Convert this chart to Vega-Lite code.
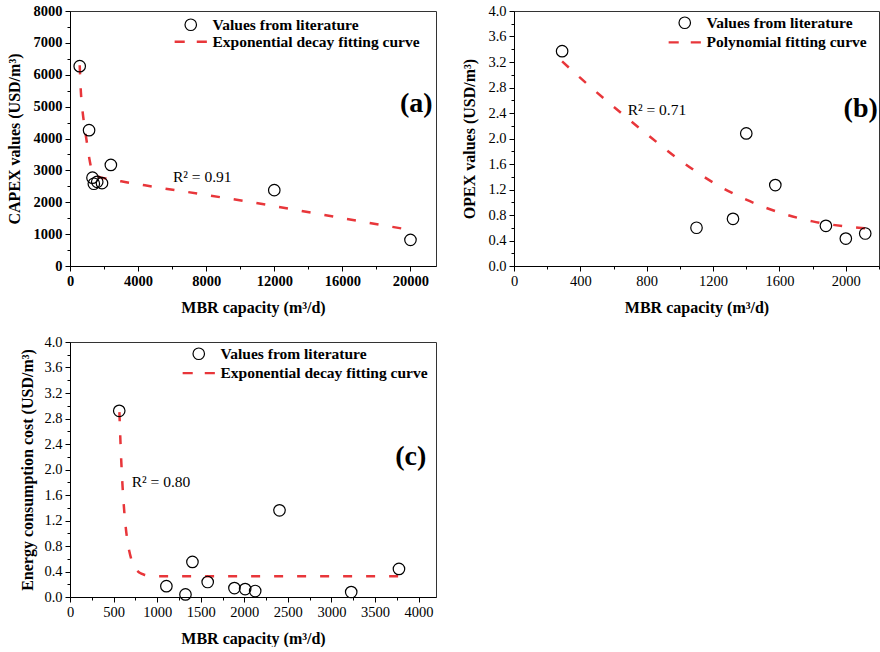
{
  "$schema": "https://vega.github.io/schema/vega-lite/v6.json",
  "background": "white",
  "padding": {"left": 5, "top": 2, "right": 0, "bottom": 0},
  "config": {
    "font": "Liberation Serif",
    "view": {"stroke": "#333", "strokeWidth": 1},
    "axis": {"domainColor": "black", "tickColor": "black", "labelFont": "Liberation Serif", "labelFontSize": 14.5, "labelColor": "black", "titleFont": "Liberation Serif", "titleFontSize": 16, "titleFontWeight": "bold", "titleColor": "black", "grid": false, "labelPadding": 3, "labelFlush": false, "labelOverlap": false},
    "legend": {"labelFont": "Liberation Serif", "labelFontSize": 15.5, "labelFontWeight": "bold", "labelColor": "black", "labelOffset": 14, "labelLimit": 400, "padding": 0, "symbolSize": 132, "symbolStrokeWidth": 1.2, "orient": "none"},
    "text": {"font": "Liberation Serif", "color": "black"}
  },
  "resolve": {"scale": {"x": "independent", "y": "independent", "color": "independent", "shape": "independent"}, "legend": {"color": "independent", "shape": "independent"}},
  "columns": 2,
  "spacing": {"row": 76, "column": 78},
  "bounds": "flush",
  "concat": [
    {
      "width": 366, "height": 255,
      "encoding": {
        "x": {"field": "x", "type": "quantitative", "scale": {"domain": [0, 21500], "nice": false, "zero": false},
          "axis": {"title": "MBR capacity (m³/d)", "values": [0,2000,4000,6000,8000,10000,12000,14000,16000,18000,20000], "format": "d", "labelFontWeight": "bold", "labelExpr": "datum.value % 4000 === 0 ? datum.label : ''", "tickSize": {"condition": {"test": "datum.value % 4000 === 0", "value": 5}, "value": 3}, "titlePadding": 12}},
        "y": {"field": "y", "type": "quantitative", "scale": {"domain": [0, 8000], "nice": false, "zero": false},
          "axis": {"title": "CAPEX values (USD/m³)", "values": [0,500,1000,1500,2000,2500,3000,3500,4000,4500,5000,5500,6000,6500,7000,7500,8000], "format": "d", "labelFontWeight": "bold", "labelExpr": "datum.value % 1000 === 0 ? datum.label : ''", "tickSize": {"condition": {"test": "datum.value % 1000 === 0", "value": 5}, "value": 3}, "titlePadding": 11}}
      },
      "layer": [
        {
          "data": {"values": [
            {"x": 570, "y": 6300}, {"x": 640, "y": 5450}, {"x": 720, "y": 4950}, {"x": 830, "y": 4460}, {"x": 985, "y": 3900}, {"x": 1160, "y": 3300}, {"x": 1300, "y": 2960}, {"x": 1450, "y": 2850}, {"x": 1750, "y": 2790}, {"x": 2250, "y": 2730}, {"x": 3300, "y": 2630}, {"x": 4400, "y": 2530}, {"x": 8000, "y": 2230}, {"x": 12000, "y": 1880}, {"x": 16000, "y": 1500}, {"x": 20000, "y": 1130}
          ]},
          "mark": {"type": "line", "color": "#e8363a", "strokeWidth": 2.5, "strokeDash": [9, 14], "interpolate": "monotone"}
        },
        {
          "data": {"values": [
            {"x": 570, "y": 6270, "series": "Values from literature"},
            {"x": 1120, "y": 4260, "series": "Values from literature"},
            {"x": 1320, "y": 2770, "series": "Values from literature"},
            {"x": 1400, "y": 2580, "series": "Values from literature"},
            {"x": 1600, "y": 2640, "series": "Values from literature"},
            {"x": 1880, "y": 2600, "series": "Values from literature"},
            {"x": 2400, "y": 3170, "series": "Values from literature"},
            {"x": 12000, "y": 2380, "series": "Values from literature"},
            {"x": 20000, "y": 820, "series": "Values from literature"}
          ]},
          "mark": {"type": "point", "filled": false, "size": 132, "strokeWidth": 1.2, "opacity": 1},
          "encoding": {
            "color": {"field": "series", "type": "nominal",
              "scale": {"domain": ["Values from literature", "Exponential decay fitting curve"], "range": ["black", "#e8363a"]},
              "legend": {"orient": "none", "legendX": 113, "legendY": 6, "title": null, "rowPadding": 0}},
            "shape": {"field": "series", "type": "nominal",
              "scale": {"domain": ["Values from literature", "Exponential decay fitting curve"], "range": ["circle", "M-2.7,-0.1H-1.15V0.1H-2.7Z M1.15,-0.1H2.7V0.1H1.15Z"]},
              "legend": {"orient": "none", "legendX": 113, "legendY": 6, "title": null, "rowPadding": 0}}
          }
        },
        {
          "data": {"values": [{"x": 6050, "y": 2790, "label": "R² = 0.91"}]},
          "mark": {"type": "text", "align": "left", "baseline": "middle", "fontSize": 15.5},
          "encoding": {"text": {"field": "label"}}
        },
        {
          "data": {"values": [{"x": 21300, "y": 5080, "label": "(a)"}]},
          "mark": {"type": "text", "align": "right", "baseline": "middle", "fontSize": 28, "fontWeight": "bold"},
          "encoding": {"text": {"field": "label"}}
        }
      ]
    },
    {
      "width": 365, "height": 255,
      "encoding": {
        "x": {"field": "x", "type": "quantitative", "scale": {"domain": [0, 2200], "nice": false, "zero": false},
          "axis": {"title": "MBR capacity (m³/d)", "values": [0,200,400,600,800,1000,1200,1400,1600,1800,2000,2200], "format": "d", "labelExpr": "datum.value % 400 === 0 ? datum.label : ''", "tickSize": {"condition": {"test": "datum.value % 400 === 0", "value": 5}, "value": 3}, "titlePadding": 12}},
        "y": {"field": "y", "type": "quantitative", "scale": {"domain": [0, 4], "nice": false, "zero": false},
          "axis": {"title": "OPEX values (USD/m³)", "values": [0,0.2,0.4,0.6,0.8,1,1.2,1.4,1.6,1.8,2,2.2,2.4,2.6,2.8,3,3.2,3.4,3.6,3.8,4], "format": ".1f", "labelExpr": "round(datum.value*10) % 4 === 0 ? datum.label : ''", "tickSize": {"condition": {"test": "round(datum.value*10) % 4 === 0", "value": 5}, "value": 3}, "titlePadding": 10}}
      },
      "layer": [
        {
          "data": {"values": [
            {"x": 290, "y": 3.21}, {"x": 400, "y": 2.95}, {"x": 600, "y": 2.5}, {"x": 800, "y": 2.07}, {"x": 1000, "y": 1.66}, {"x": 1200, "y": 1.31}, {"x": 1400, "y": 1.04}, {"x": 1600, "y": 0.84}, {"x": 1800, "y": 0.7}, {"x": 2000, "y": 0.62}, {"x": 2117, "y": 0.59}
          ]},
          "mark": {"type": "line", "color": "#e8363a", "strokeWidth": 2.5, "strokeDash": [9, 14], "interpolate": "monotone"}
        },
        {
          "data": {"values": [
            {"x": 290, "y": 3.37, "series": "Values from literature"},
            {"x": 1100, "y": 0.6, "series": "Values from literature"},
            {"x": 1320, "y": 0.74, "series": "Values from literature"},
            {"x": 1400, "y": 2.08, "series": "Values from literature"},
            {"x": 1575, "y": 1.27, "series": "Values from literature"},
            {"x": 1880, "y": 0.63, "series": "Values from literature"},
            {"x": 2000, "y": 0.43, "series": "Values from literature"},
            {"x": 2117, "y": 0.51, "series": "Values from literature"}
          ]},
          "mark": {"type": "point", "filled": false, "size": 132, "strokeWidth": 1.2, "opacity": 1},
          "encoding": {
            "color": {"field": "series", "type": "nominal",
              "scale": {"domain": ["Values from literature", "Polynomial fitting curve"], "range": ["black", "#e8363a"]},
              "legend": {"orient": "none", "legendX": 163, "legendY": 4, "title": null, "rowPadding": 2.6}},
            "shape": {"field": "series", "type": "nominal",
              "scale": {"domain": ["Values from literature", "Polynomial fitting curve"], "range": ["circle", "M-2.7,-0.1H-1.15V0.1H-2.7Z M1.15,-0.1H2.7V0.1H1.15Z"]},
              "legend": {"orient": "none", "legendX": 163, "legendY": 4, "title": null, "rowPadding": 2.6}}
          }
        },
        {
          "data": {"values": [{"x": 685, "y": 2.445, "label": "R² = 0.71"}]},
          "mark": {"type": "text", "align": "left", "baseline": "middle", "fontSize": 15.5},
          "encoding": {"text": {"field": "label"}}
        },
        {
          "data": {"values": [{"x": 2193, "y": 2.47, "label": "(b)"}]},
          "mark": {"type": "text", "align": "right", "baseline": "middle", "fontSize": 28, "fontWeight": "bold"},
          "encoding": {"text": {"field": "label"}}
        }
      ]
    },
    {
      "width": 366, "height": 255,
      "encoding": {
        "x": {"field": "x", "type": "quantitative", "scale": {"domain": [0, 4200], "nice": false, "zero": false},
          "axis": {"title": "MBR capacity (m³/d)", "values": [0,250,500,750,1000,1250,1500,1750,2000,2250,2500,2750,3000,3250,3500,3750,4000], "format": "d", "labelExpr": "datum.value % 500 === 0 ? datum.label : ''", "tickSize": {"condition": {"test": "datum.value % 500 === 0", "value": 5}, "value": 3}, "titlePadding": 12}},
        "y": {"field": "y", "type": "quantitative", "scale": {"domain": [0, 4], "nice": false, "zero": false},
          "axis": {"title": "Energy consumption cost (USD/m³)", "values": [0,0.2,0.4,0.6,0.8,1,1.2,1.4,1.6,1.8,2,2.2,2.4,2.6,2.8,3,3.2,3.4,3.6,3.8,4], "format": ".1f", "labelExpr": "round(datum.value*10) % 4 === 0 ? datum.label : ''", "tickSize": {"condition": {"test": "round(datum.value*10) % 4 === 0", "value": 5}, "value": 3}, "titlePadding": 8}}
      },
      "layer": [
        {
          "data": {"values": [
            {"x": 567, "y": 2.9}, {"x": 580, "y": 2.4}, {"x": 600, "y": 1.81}, {"x": 620, "y": 1.39}, {"x": 640, "y": 1.09}, {"x": 660, "y": 0.87}, {"x": 680, "y": 0.72}, {"x": 700, "y": 0.61}, {"x": 730, "y": 0.5}, {"x": 760, "y": 0.43}, {"x": 800, "y": 0.38}, {"x": 850, "y": 0.35}, {"x": 900, "y": 0.335}, {"x": 1000, "y": 0.327}, {"x": 1500, "y": 0.325}, {"x": 2500, "y": 0.325}, {"x": 3775, "y": 0.325}
          ]},
          "mark": {"type": "line", "color": "#e8363a", "strokeWidth": 2.5, "strokeDash": [9, 14], "interpolate": "monotone"}
        },
        {
          "data": {"values": [
            {"x": 565, "y": 2.92, "series": "Values from literature"},
            {"x": 1106, "y": 0.17, "series": "Values from literature"},
            {"x": 1325, "y": 0.04, "series": "Values from literature"},
            {"x": 1405, "y": 0.55, "series": "Values from literature"},
            {"x": 1580, "y": 0.235, "series": "Values from literature"},
            {"x": 1887, "y": 0.14, "series": "Values from literature"},
            {"x": 2010, "y": 0.125, "series": "Values from literature"},
            {"x": 2125, "y": 0.094, "series": "Values from literature"},
            {"x": 2404, "y": 1.36, "series": "Values from literature"},
            {"x": 3227, "y": 0.078, "series": "Values from literature"},
            {"x": 3775, "y": 0.44, "series": "Values from literature"}
          ]},
          "mark": {"type": "point", "filled": false, "size": 132, "strokeWidth": 1.2, "opacity": 1},
          "encoding": {
            "color": {"field": "series", "type": "nominal",
              "scale": {"domain": ["Values from literature", "Exponential decay fitting curve"], "range": ["black", "#e8363a"]},
              "legend": {"orient": "none", "legendX": 121, "legendY": 4, "title": null, "rowPadding": 2.3}},
            "shape": {"field": "series", "type": "nominal",
              "scale": {"domain": ["Values from literature", "Exponential decay fitting curve"], "range": ["circle", "M-2.7,-0.1H-1.15V0.1H-2.7Z M1.15,-0.1H2.7V0.1H1.15Z"]},
              "legend": {"orient": "none", "legendX": 121, "legendY": 4, "title": null, "rowPadding": 2.3}}
          }
        },
        {
          "data": {"values": [{"x": 708, "y": 1.8, "label": "R² = 0.80"}]},
          "mark": {"type": "text", "align": "left", "baseline": "middle", "fontSize": 15.5},
          "encoding": {"text": {"field": "label"}}
        },
        {
          "data": {"values": [{"x": 4089, "y": 2.196, "label": "(c)"}]},
          "mark": {"type": "text", "align": "right", "baseline": "middle", "fontSize": 28, "fontWeight": "bold"},
          "encoding": {"text": {"field": "label"}}
        }
      ]
    }
  ]
}
